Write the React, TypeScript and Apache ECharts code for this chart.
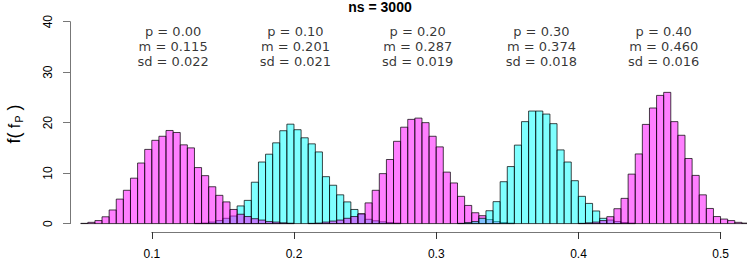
import React, { useEffect, useRef } from 'react';
import * as echarts from 'echarts';

const TITLE = 'ns = 3000';
const BIN_WIDTH = 0.005;
const pLabels = ['0.00', '0.10', '0.20', '0.30', '0.40'];
const means = [0.115, 0.201, 0.287, 0.374, 0.46];
const sdLabels = ['0.022', '0.021', '0.019', '0.018', '0.016'];
const binStarts = [0.05, 0.13, 0.21, 0.315, 0.4];

const hist1 = [0.05, 0.25, 0.6, 1.35, 2.7, 4.85, 6.6, 9.0, 12.0, 14.7, 16.5, 17.3, 18.45, 18.05, 15.6, 15.0, 11.1, 9.5, 7.3, 5.6, 4.3, 2.8, 1.85, 1.4, 0.97, 0.7, 0.4, 0.3, 0.15, 0.07];
const hist2 = [0.05, 0.1, 0.3, 0.6, 1.05, 1.5, 3.5, 4.6, 8.2, 12.2, 13.75, 16.0, 18.4, 19.7, 18.6, 17.0, 15.8, 14.2, 9.3, 7.6, 5.7, 4.3, 2.8, 1.9, 0.85, 0.55, 0.35, 0.2, 0.1];
const hist3 = [0.05, 0.1, 0.3, 0.5, 0.7, 1.05, 1.4, 1.95, 4.1, 6.6, 9.9, 12.7, 16.3, 19.1, 20.65, 20.9, 20.0, 17.3, 15.2, 10.2, 8.05, 5.4, 3.6, 2.15, 1.57, 0.8, 0.4, 0.2, 0.1];
const hist4 = [0.05, 0.2, 0.4, 1.05, 2.55, 4.35, 8.3, 11.3, 15.55, 20.2, 22.3, 22.3, 21.7, 19.8, 14.6, 12.2, 8.5, 5.4, 4.0, 2.5, 1.05, 0.7, 0.4, 0.2, 0.1];
const hist5 = [0.05, 0.15, 0.3, 0.6, 1.37, 2.95, 5.0, 9.8, 13.8, 19.65, 22.9, 25.4, 26.0, 20.2, 17.5, 12.9, 9.55, 5.7, 3.0, 1.4, 0.9, 0.6, 0.25, 0.1];
const histograms = [hist1, hist2, hist3, hist4, hist5];

const xTicks = [0.1, 0.2, 0.3, 0.4, 0.5];
const yTicks = [0, 10, 20, 30, 40];

const MAGENTA = 'rgba(255,0,255,0.5)';
const CYAN = 'rgba(0,255,255,0.5)';
const FONT = '"Liberation Sans", Arial, Helvetica, sans-serif';
const ANNOT_FONT = '"DejaVu Sans", "Liberation Sans", sans-serif';
// drawing order so that overlaps blend like the reference
const drawOrder = [1, 0, 2, 3, 4];

function toBins(values: number[], start: number) {
  return values.map((v, i) => {
    const x0 = +(start + i * BIN_WIDTH).toFixed(4);
    const x1 = +(start + (i + 1) * BIN_WIDTH).toFixed(4);
    return [x0, x1, v];
  });
}

export default function App() {
  const ref = useRef<HTMLDivElement>(null);
  useEffect(() => {
    if (!ref.current) return;
    const chart = echarts.init(ref.current, null, { renderer: 'svg' });
    const histSeries = drawOrder.map((k) => {
      const color = k % 2 === 0 ? MAGENTA : CYAN;
      return {
        type: 'custom',
        xAxisIndex: 0,
        yAxisIndex: 0,
        clip: false,
        encode: { x: [0, 1], y: 2 },
        data: toBins(histograms[k], binStarts[k]),
        renderItem: (params: any, api: any) => {
          const p0 = api.coord([api.value(0), api.value(2)]);
          const p1 = api.coord([api.value(1), 0]);
          return {
            type: 'rect',
            shape: { x: p0[0], y: p0[1], width: p1[0] - p0[0], height: p1[1] - p0[1] },
            style: { fill: color, stroke: 'rgba(0,0,0,0.72)', lineWidth: 1 },
          };
        },
      };
    });
    const annot = {
      type: 'scatter',
      xAxisIndex: 0,
      yAxisIndex: 0,
      symbolSize: 0,
      silent: true,
      data: means.map((m, i) => ({
        value: [m, 35],
        label: {
          show: true,
          position: 'inside',
          formatter: `p = ${pLabels[i]}\nm = ${m.toFixed(3)}\nsd = ${sdLabels[i]}`,
        },
      })),
      label: {
        show: true,
        position: 'inside',
        fontSize: 13,
        lineHeight: 15,
        color: '#000',
        fontFamily: ANNOT_FONT,
        align: 'center',
        verticalAlign: 'middle',
      },
    };
    chart.setOption({
      animation: false,
      backgroundColor: '#fff',
      grid: [
        { left: 70, width: 677, top: 21.7, bottom: 38.4 },
        { left: 151.8, width: 568.9, top: 231, height: 1 },
      ],
      xAxis: [
        { type: 'value', gridIndex: 0, min: 0.04247, max: 0.5186, show: false },
        {
          type: 'value',
          gridIndex: 1,
          min: xTicks[0],
          max: xTicks[xTicks.length - 1],
          interval: 0.1,
          axisLine: { show: true, lineStyle: { color: '#777', width: 1 } },
          axisTick: { show: true, length: 7, lineStyle: { color: '#333', width: 1 } },
          splitLine: { show: false },
          axisLabel: {
            margin: 16,
            fontSize: 12,
            color: '#000',
            fontFamily: FONT,
            formatter: (v: number) => v.toFixed(1),
          },
        },
      ],
      yAxis: [
        {
          type: 'value',
          gridIndex: 0,
          min: yTicks[0],
          max: yTicks[yTicks.length - 1],
          interval: 10,
          axisLine: { show: true, lineStyle: { color: '#777', width: 1 } },
          axisTick: { show: true, length: 7, lineStyle: { color: '#777', width: 1 } },
          splitLine: { show: false },
          axisLabel: {
            rotate: 90,
            margin: 16,
            fontSize: 12,
            color: '#000',
            fontFamily: FONT,
          },
        },
        { type: 'value', gridIndex: 1, min: 0, max: 1, show: false },
      ],
      graphic: [
        {
          type: 'text',
          x: 380,
          y: 7,
          style: {
            text: TITLE,
            fill: '#000',
            font: `bold 14px ${FONT}`,
            textAlign: 'center',
            textVerticalAlign: 'middle',
          },
        },
        {
          type: 'text',
          x: 14,
          y: 124,
          rotation: Math.PI / 2,
          style: {
            text: '{a|f(}{b| f}{s|P}{a| )}',
            fill: '#000',
            align: 'center',
            verticalAlign: 'middle',
            rich: {
              a: { fontSize: 18, fontFamily: FONT, fill: '#000', lineHeight: 24, verticalAlign: 'middle' },
              b: { fontSize: 16, fontFamily: FONT, fill: '#000', lineHeight: 24, verticalAlign: 'middle' },
              s: { fontSize: 11, fontFamily: FONT, fill: '#000', lineHeight: 24, verticalAlign: 'bottom', padding: [0, 0, 2, 1] },
            },
          },
        },
      ],
      series: [
        ...histSeries,
        annot,
        { type: 'scatter', xAxisIndex: 1, yAxisIndex: 1, data: [] },
      ],
    } as any);
    return () => chart.dispose();
  }, []);
  return (
    <div
      ref={ref}
      style={{ position: 'fixed', left: 0, top: 0, width: 747, height: 262, background: '#fff' }}
    />
  );
}
